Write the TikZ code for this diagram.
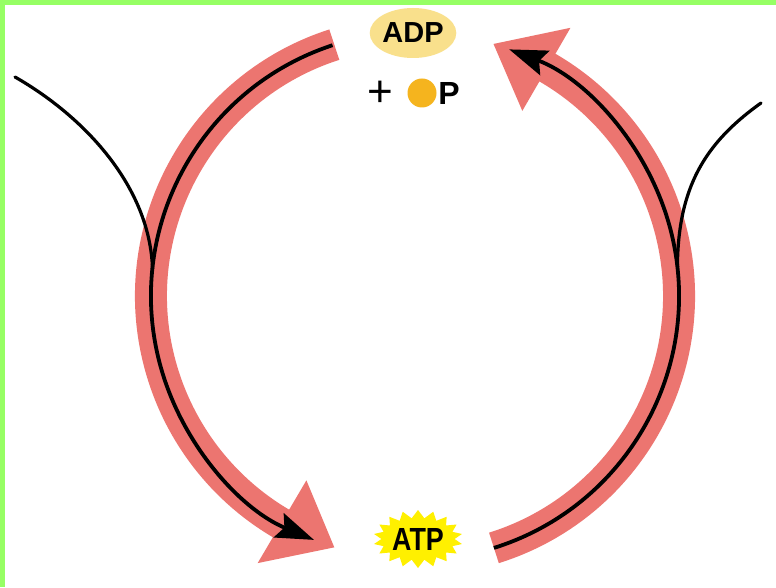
\documentclass[tikz,border=0pt]{standalone}
\usepackage{fontspec}
\usepackage{graphicx}
\setmainfont{Liberation Sans}
\usetikzlibrary{arrows.meta,shapes.symbols,shapes.geometric}
\definecolor{bandred}{RGB}{236,117,112}
\definecolor{lime}{RGB}{150,255,100}
\definecolor{adpfill}{RGB}{249,224,140}
\definecolor{pfill}{RGB}{245,180,30}
\definecolor{atpfill}{RGB}{255,240,0}
\begin{document}
\begin{tikzpicture}[x=1pt,y=1pt,
  band/.style={line width=32pt, draw=bandred},
  head/.style={fill=bandred},
  flow/.style={line width=3.8pt, draw=black, -{Stealth[length=38pt,width=26pt,inset=6pt]}},
  feed/.style={line width=3.2pt, draw=black},
]
\useasboundingbox (0,0) rectangle (776,587);
\fill[white] (0,0) rectangle (776,587);
\fill[lime] (0,0) rectangle (5,587);
\fill[lime] (0,582) rectangle (776,587);
\coordinate (C) at (415,291);
% left band
\draw[band] ([shift={(C)}]107.8:264) arc[start angle=107.8, end angle=240.5, radius=264];
\fill[head] ([shift={(C)}]239.5:214) -- ([shift={(C)}]239.5:310) -- ([shift={(C)}]252.2:264) -- cycle;
% right band
\draw[band] ([shift={(C)}]-72.6:264) arc[start angle=-72.6, end angle=60.9, radius=264];
\fill[head] ([shift={(C)}]59.9:214) -- ([shift={(C)}]59.9:310) -- ([shift={(C)}]72.7:264) -- cycle;
% black flow lines
\draw[flow] ([shift={(C)}]108.2:264) arc[start angle=108.2, end angle=247.5, radius=264];
\draw[flow] ([shift={(C)}]-72.6:264) arc[start angle=-72.6, end angle=69.1, radius=264];
% feed lines
\coordinate (lstart) at (15,510);
\coordinate (lmerge) at (152.5,318);
\coordinate (rstart) at (761,484);
\coordinate (rmerge) at (677.4,320);
\draw[feed, line cap=round] (lstart) .. controls (85,470) and (150,400) .. (lmerge);
\draw[feed, line cap=round] (rstart) .. controls (705,444) and (678,400) .. (rmerge);
% labels
\node[ellipse, fill=adpfill, minimum width=80pt, minimum height=50pt, inner sep=0pt] (adp) at (413,554) {\fontsize{29}{29}\selectfont\bfseries ADP};
\node[inner sep=0pt] (plus) at (380,493) {\fontsize{44}{44}\selectfont +};
\node[circle, fill=pfill, minimum size=29pt, inner sep=0pt] (pi) at (422,494) {};
\node[inner sep=0pt] (p) at (449,494) {\fontsize{32}{32}\selectfont\bfseries P};
\node[starburst, fill=atpfill, starburst points=18, starburst point height=8pt, random starburst=0, minimum width=84pt, minimum height=58pt, inner sep=0pt] (atp) at (418,48) {\fontsize{32}{32}\selectfont\bfseries\scalebox{0.84}[1]{ATP}};
\end{tikzpicture}
\end{document}
